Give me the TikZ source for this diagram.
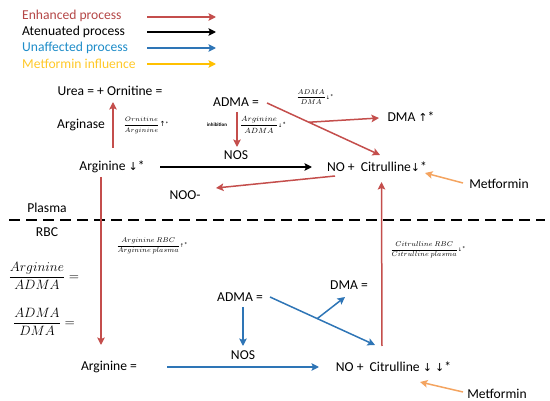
\RequirePackage{fix-cm}
\documentclass[tikz,border=0pt]{standalone}
\usepackage{fontspec}
\setmainfont{Carlito}
\newfontfamily\arr{DejaVu Sans}
\usetikzlibrary{arrows.meta,calc}
\definecolor{cred}{RGB}{196,78,76}
\definecolor{cblue}{RGB}{46,117,182}
\definecolor{corange}{RGB}{244,164,96}
\definecolor{cyellow}{RGB}{255,192,0}
\definecolor{ctred}{RGB}{180,70,70}
\definecolor{ctblue}{RGB}{30,140,200}
\definecolor{ctyellow}{RGB}{255,200,40}
\begin{document}
\begin{tikzpicture}[x=1pt,y=-1pt,
  lbl/.style={font=\fontsize{13.6}{15}\selectfont, inner sep=1pt},
  fr/.style={inner sep=0pt},
  arrowline/.style={line width=1.5pt, -{Stealth[length=7.5pt,width=7.5pt,inset=1.5pt]}},
  enh/.style={arrowline, draw=cred},
  att/.style={arrowline, draw=black},
  unaf/.style={arrowline, draw=cblue},
  met/.style={arrowline, draw=corange},
  legarrow/.style={line width=1.5pt, -{Stealth[length=7.5pt,width=7.5pt,inset=1.5pt]}}]
\useasboundingbox (0,0) rectangle (550,401);

% legend
\node[lbl,anchor=west,text=ctred] (lg1) at (21,16) {Enhanced process};
\node[lbl,anchor=west,text=black] (lg2) at (21,32) {Atenuated process};
\node[lbl,anchor=west,text=ctblue] (lg3) at (21,48) {Unaffected process};
\node[lbl,anchor=west,text=ctyellow] (lg4) at (21,64) {Metformin influence};
\coordinate (l1a) at (147,17); \coordinate (l1b) at (216,17);
\coordinate (l2a) at (147,32); \coordinate (l2b) at (216,32);
\coordinate (l3a) at (147,48); \coordinate (l3b) at (216,48);
\coordinate (l4a) at (147,64); \coordinate (l4b) at (216,64);
\draw[legarrow,draw=cred] (l1a) -- (l1b);
\draw[legarrow,draw=black] (l2a) -- (l2b);
\draw[legarrow,draw=cblue] (l3a) -- (l3b);
\draw[legarrow,draw=cyellow] (l4a) -- (l4b);

% upper (plasma)
\node[lbl] (urea) at (110,91) {Urea = + Ornitine =};
\node[lbl] (arginase) at (81,125) {Arginase};
\node[fr,font=\fontsize{6.5}{7}\selectfont] (fOrn) at (146,125) {$\displaystyle\frac{Ornitine}{Arginine}${\arr\fontsize{7}{8}\selectfont↑}*};
\node[lbl] (argU) at (112,167) {Arginine {\arr\fontsize{11}{13}\selectfont↓}*};
\node[lbl] (admaU) at (236,102) {ADMA =};
\node[fr,font=\fontsize{5}{6}\selectfont\bfseries] (inhib) at (217,125) {inhibition};
\node[fr,font=\fontsize{7.5}{8}\selectfont] (fArgAdma) at (263,125) {$\displaystyle\frac{Arginine}{ADMA}${\arr\fontsize{5}{6}\selectfont↓}*};
\node[lbl] (nosU) at (236,155) {NOS};
\node[fr,font=\fontsize{7}{8}\selectfont] (fAdmaDma) at (315,97) {$\displaystyle\frac{ADMA}{DMA}${\arr\fontsize{5}{6}\selectfont↓}*};
\node[lbl] (dmaU) at (411,117) {DMA {\arr\fontsize{11}{13}\selectfont↑}*};
\node[lbl] (citU) at (377,167) {NO +\ \ Citrulline{\arr\fontsize{11}{13}\selectfont↓}*};
\node[lbl] (metU) at (499,184) {Metformin};
\node[lbl] (noo) at (185,195) {NOO-};

% membrane
\node[lbl] (plasma) at (47,208) {Plasma};
\node[lbl] (rbc) at (47,232) {RBC};
\coordinate (dashL) at (9,220); \coordinate (dashR) at (545,220);
\draw[line width=2.4pt, dash pattern=on 11pt off 6pt] (dashL) -- (dashR);

% lower (RBC)
\node[fr,font=\fontsize{7}{8}\selectfont] (fArgRBC) at (152,246) {$\displaystyle\frac{Arginine\ RBC}{Arginine\ plasma}${\arr\fontsize{5}{6}\selectfont↑}*};
\node[fr,font=\fontsize{7}{8}\selectfont] (fCitRBC) at (428,250) {$\displaystyle\frac{Citrulline\ RBC}{Citrulline\ plasma}${\arr\fontsize{5}{6}\selectfont↓}*};
\node[fr,font=\fontsize{13.5}{15}\selectfont] (bigF1) at (44,276) {$\displaystyle\frac{Arginine}{ADMA}=$};
\node[fr,font=\fontsize{13.5}{15}\selectfont] (bigF2) at (44,322) {$\displaystyle\frac{ADMA}{DMA}=$};
\node[lbl] (admaL) at (240,297) {ADMA =};
\node[lbl] (dmaL) at (349,285) {DMA =};
\node[lbl] (nosL) at (243,355) {NOS};
\node[lbl] (argL) at (109,367) {Arginine =};
\node[lbl] (citL) at (393.5,367) {NO +\ \ Citrulline {\arr\fontsize{11}{13}\selectfont↓} {\arr\fontsize{11}{13}\selectfont↓}*};
\node[lbl] (metL) at (497,394) {Metformin};

% connector end points tied to nodes
\coordinate (c1a) at ([shift={(1,-19)}]argU.center);
\coordinate (c1b) at ([shift={(3,11)}]urea.center);
\coordinate (c2a) at ([shift={(1,10)}]admaU.center);
\coordinate (c2b) at ([shift={(1,-8)}]nosU.center);
\coordinate (c3a) at ([shift={(48,0)}]argU.center);
\coordinate (c3b) at ([shift={(-65,0)}]citU.center);
\coordinate (c4a) at ([shift={(31,1)}]admaU.center);
\coordinate (c4b) at ([shift={(3,-12)}]citU.center);
\coordinate (c5a) at ($(c4a)!0.37!(c4b)$);
\coordinate (c5b) at ([shift={(-32,1)}]dmaU.center);
\coordinate (c6a) at ([shift={(-42,9)}]citU.center);
\coordinate (c6b) at ([shift={(31,-7)}]noo.center);
\coordinate (c7a) at ([shift={(-36,-1)}]metU.center);
\coordinate (c7b) at ([shift={(48,6)}]citU.center);
\coordinate (c8a) at ([shift={(-11,10)}]argU.center);
\coordinate (c8b) at ([shift={(-8,-22)}]argL.center);
\coordinate (c9a) at ([shift={(-11.5,-21)}]citL.center);
\coordinate (c9b) at ([shift={(4.5,15)}]citU.center);
\coordinate (c10a) at ([shift={(3,10)}]admaL.center);
\coordinate (c10b) at ([shift={(0,-9)}]nosL.center);
\coordinate (c11a) at ([shift={(58,0)}]argL.center);
\coordinate (c11b) at ([shift={(-74.5,0)}]citL.center);
\coordinate (c12a) at ([shift={(30,0)}]admaL.center);
\coordinate (c12b) at ([shift={(-18.5,-22)}]citL.center);
\coordinate (c13a) at ($(c12a)!0.45!(c12b)$);
\coordinate (c13b) at ([shift={(-4,12)}]dmaL.center);
\coordinate (c14a) at ([shift={(-34,-2)}]metL.center);
\coordinate (c14b) at ([shift={(26.5,15)}]citL.center);

\draw[enh] (c1a) -- (c1b);
\draw[enh] (c2a) -- (c2b);
\draw[att] (c3a) -- (c3b);
\draw[enh] (c4a) -- (c4b);
\draw[enh] (c5a) -- (c5b);
\draw[enh] (c6a) -- (c6b);
\draw[met] (c7a) -- (c7b);
\draw[enh] (c8a) -- (c8b);
\draw[enh] (c9a) -- (c9b);
\draw[unaf] (c10a) -- (c10b);
\draw[unaf] (c11a) -- (c11b);
\draw[unaf] (c12a) -- (c12b);
\draw[unaf] (c13a) -- (c13b);
\draw[met] (c14a) -- (c14b);
\end{tikzpicture}
\end{document}
